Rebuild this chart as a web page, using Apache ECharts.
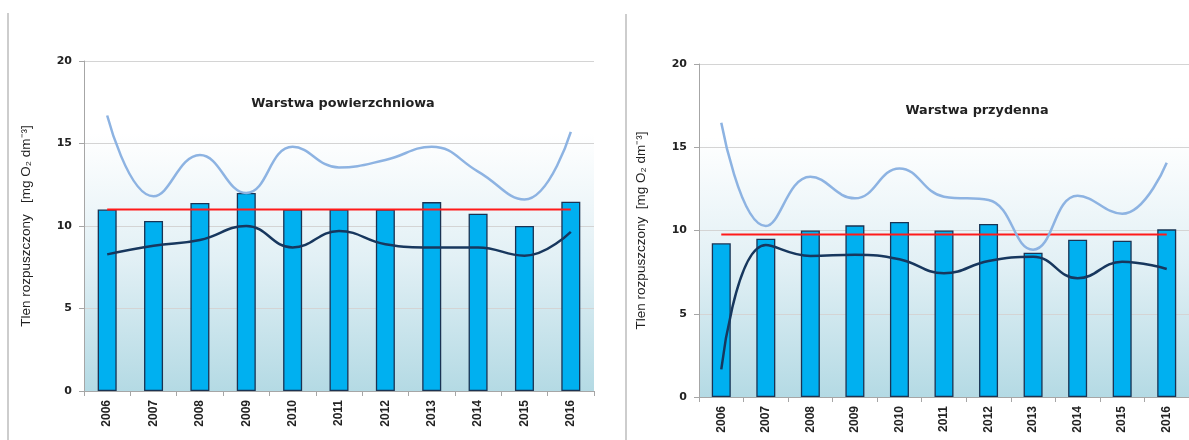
<!DOCTYPE html>
<html><head><meta charset="utf-8">
<script src="https://cdn.jsdelivr.net/npm/echarts@6/dist/echarts.min.js"></script>
<style>html,body{margin:0;padding:0;background:#fff}#c{width:1189px;height:440px}</style>
</head><body><div id="c"></div>
<script>
const years = ['2006','2007','2008','2009','2010','2011','2012','2013','2014','2015','2016'];
const yTicks = [0, 5, 10, 15, 20];

// Warstwa powierzchniowa
const surfBars = [11.0, 10.3, 11.4, 12.0, 11.0, 11.0, 11.0, 11.45, 10.75, 10.0, 11.47];
const surfMax  = [16.7, 11.8, 14.3, 12.0, 14.8, 13.55, 14.0, 14.8, 13.3, 11.6, 15.7];
const surfMin  = [8.28, 8.8, 9.15, 10.0, 8.7, 9.7, 8.9, 8.7, 8.7, 8.2, 9.65];
const surfMean = [11.0, 11.0, 11.0, 11.0, 11.0, 11.0, 11.0, 11.0, 11.0, 11.0, 11.0];

// Warstwa przydenna
const botBars = [9.23, 9.51, 10.0, 10.31, 10.51, 10.0, 10.39, 8.67, 9.45, 9.39, 10.07];
const botMax  = [16.47, 10.27, 13.23, 11.93, 13.73, 12.03, 11.83, 8.85, 12.09, 11.0, 14.07];
const botMin  = [1.66, 9.13, 8.47, 8.55, 8.27, 7.43, 8.17, 8.43, 7.13, 8.13, 7.69];
const botMean = [9.76, 9.76, 9.76, 9.76, 9.76, 9.76, 9.76, 9.76, 9.76, 9.76, 9.76];

const titles = ['Warstwa powierzchniowa', 'Warstwa przydenna'];
const yName = ['Tlen rozpuszczony   [mg O\u2082 dm\u207B\u00B3]', 'Tlen rozpuszczony  [mg O\u2082 dm\u207B\u00B3]'];

const bg = {type:'linear', x:0, y:0, x2:0, y2:1, colorStops:[
  {offset:0, color:'#ffffff'}, {offset:0.22, color:'#ffffff'},
  {offset:0.6, color:'#e2f0f5'}, {offset:1, color:'#b4dae4'}]};

const grids = [
  {left:84, top:61, width:510, height:330, show:true, backgroundColor:bg, borderWidth:0},
  {left:699, top:64, width:502, height:333, show:true, backgroundColor:bg, borderWidth:0}
];

function xAx(i){ return {type:'category', gridIndex:i, data:years, boundaryGap:true,
  axisLine:{lineStyle:{color:'#a6a6a6', width:1}},
  axisTick:{show:true, length:5, lineStyle:{color:'#a6a6a6'}},
  axisLabel:{rotate:90, margin:9, fontFamily:'Liberation Sans', fontWeight:'bold', fontSize:12, color:'#222'}}; }
function yAx(i){ return {type:'value', gridIndex:i, min:yTicks[0], max:yTicks[yTicks.length-1], interval:5,
  name:yName[i], nameLocation:'middle', nameGap:[51,51][i],
  nameTextStyle:{fontFamily:"'Liberation Sans Narrow','Liberation Sans'", fontSize:13.5, color:'#222'},
  axisLine:{show:true, lineStyle:{color:'#a6a6a6', width:1}},
  axisTick:{show:true, length:5, lineStyle:{color:'#a6a6a6'}},
  splitLine:{show:true, lineStyle:{color:'#d4d4d4', width:1.2}},
  axisLabel:{margin:12, fontFamily:'DejaVu Sans', fontWeight:'bold', fontSize:11, color:'#222',
    formatter:v=>yTicks.includes(v)?String(v):''}}; }

function seriesFor(i, bars, mx, mn, mean){
  return [
    {type:'bar', xAxisIndex:i, yAxisIndex:i, data:bars, barWidth:19,
      itemStyle:{color:'#00b0f0', borderColor:'#1a3353', borderWidth:1.3}, z:2},
    {type:'line', xAxisIndex:i, yAxisIndex:i, data:mean, symbol:'none',
      lineStyle:{color:'#ff1a1a', width:2}, z:3},
    {type:'line', xAxisIndex:i, yAxisIndex:i, data:mx, symbol:'none', smooth:0.45,
      lineStyle:{color:'#8db3e2', width:2.5}, z:4},
    {type:'line', xAxisIndex:i, yAxisIndex:i, data:mn, symbol:'none', smooth:0.45,
      lineStyle:{color:'#17375e', width:2.5}, z:5}
  ];
}

const chart = echarts.init(document.getElementById('c'), null, {renderer:'canvas'});
chart.setOption({
  animation:false,
  backgroundColor:'#ffffff',
  title:[
    {text:titles[0], left:338, top:92, textAlign:'center',
      textStyle:{fontFamily:'DejaVu Sans', fontWeight:'bold', fontSize:12.8, color:'#222'}},
    {text:titles[1], left:972, top:99, textAlign:'center',
      textStyle:{fontFamily:'DejaVu Sans', fontWeight:'bold', fontSize:12.8, color:'#222'}}
  ],
  graphic:[
    {type:'line', shape:{x1:8, y1:13, x2:8, y2:440}, style:{stroke:'#bdbdbd', lineWidth:1.5}},
    {type:'line', shape:{x1:626, y1:14, x2:626, y2:440}, style:{stroke:'#bdbdbd', lineWidth:1.5}}
  ],
  grid:grids,
  xAxis:[xAx(0), xAx(1)],
  yAxis:[yAx(0), yAx(1)],
  series:[...seriesFor(0, surfBars, surfMax, surfMin, surfMean), ...seriesFor(1, botBars, botMax, botMin, botMean)]
});
</script></body></html>
